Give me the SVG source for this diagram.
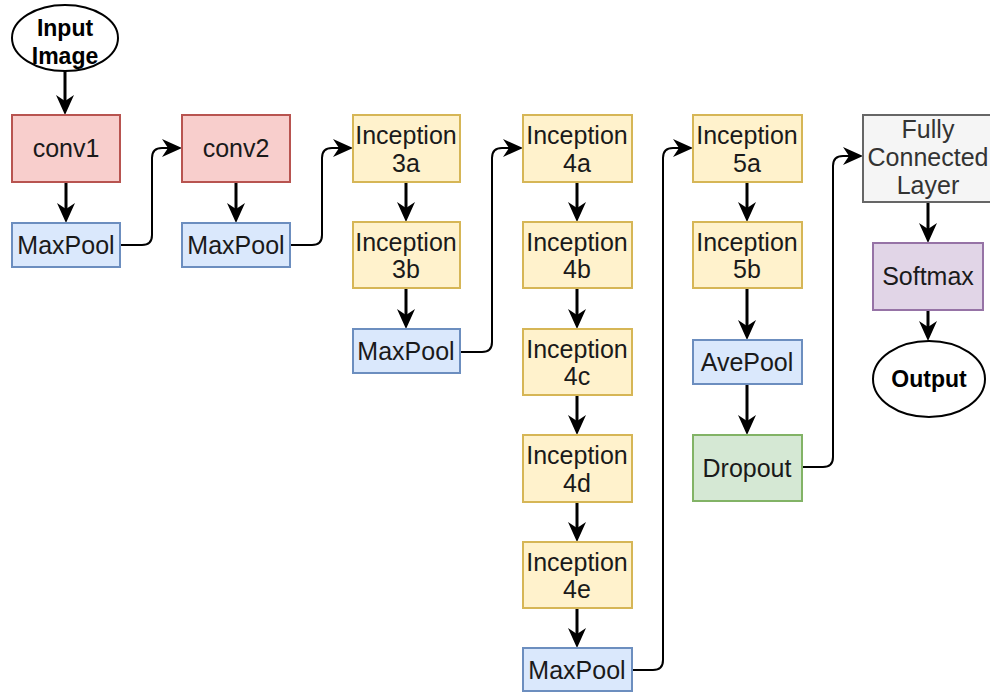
<svg xmlns="http://www.w3.org/2000/svg" width="990" height="693" viewBox="0 0 990 693">
<style>
text{font-family:"Liberation Sans",Arial,sans-serif;font-size:25px;fill:#1a1a1a;text-anchor:middle}
.b{font-weight:bold;font-size:23px;fill:#000}
.n rect,.n ellipse{stroke-width:2}
.red{fill:#f8cecc;stroke:#b85450}
.blue{fill:#dae8fc;stroke:#6c8ebf}
.yel{fill:#fff2cc;stroke:#d6b656}
.grn{fill:#d5e8d4;stroke:#82b366}
.gry{fill:#f5f5f5;stroke:#666666}
.pur{fill:#e1d5e7;stroke:#9673a6}
.ell{fill:#fff;stroke:#000}
#edges path{fill:none;stroke:#000;stroke-width:3;marker-end:url(#ah)}
#edges path.c{stroke-width:2}
</style>
<defs>
<marker id="ah" viewBox="0 0 20 18" refX="6" refY="9" markerWidth="20" markerHeight="18" orient="auto" markerUnits="userSpaceOnUse"><path d="M0,0 L20,9 L0,18 L6,9 z" fill="#000"/></marker>
</defs>
<rect width="990" height="693" fill="#fff"/>
<g id="edges">
<path d="M65,71 V101"/>
<path d="M66,182 V209"/>
<path d="M236,182 V209"/>
<path d="M406,182 V208"/>
<path d="M406,288 V315"/>
<path d="M577,182 V208"/>
<path d="M577,288 V315"/>
<path d="M577,395 V421"/>
<path d="M577,502 V528"/>
<path d="M577,608 V634"/>
<path d="M747,182 V208"/>
<path d="M747,288 V326"/>
<path d="M747,384 V421"/>
<path d="M928,202 V229"/>
<path d="M928,310 V327"/>
<path class="c" d="M120,245 H142 Q152,245 152,235 V158 Q152,148 162,148 H168"/>
<path class="c" d="M290,245 H312 Q322,245 322,235 V158 Q322,148 332,148 H339"/>
<path class="c" d="M460,352 H482 Q492,352 492,342 V158 Q492,148 502,148 H509"/>
<path class="c" d="M632,670 H653 Q663,670 663,660 V158 Q663,148 673,148 H679"/>
<path class="c" d="M802,467 H823 Q833,467 833,457 V166 Q833,156 843,156 H849"/>
</g>
<g id="input" class="n"><ellipse class="ell" cx="65" cy="38" rx="53" ry="33"/><text class="b" x="65" y="36">Input</text><text class="b" x="65" y="64">Image</text></g>
<g id="conv1" class="n"><rect class="red" x="12" y="115" width="108" height="67"/><text x="66" y="157">conv1</text></g>
<g id="maxpool1" class="n"><rect class="blue" x="12" y="223" width="108" height="44"/><text x="66" y="254">MaxPool</text></g>
<g id="conv2" class="n"><rect class="red" x="182" y="115" width="108" height="67"/><text x="236" y="157">conv2</text></g>
<g id="maxpool2" class="n"><rect class="blue" x="182" y="223" width="108" height="44"/><text x="236" y="254">MaxPool</text></g>
<g id="inc3a" class="n"><rect class="yel" x="353" y="115" width="107" height="67"/><text x="406" y="144">Inception</text><text x="406" y="172">3a</text></g>
<g id="inc3b" class="n"><rect class="yel" x="353" y="222" width="107" height="66"/><text x="406" y="251">Inception</text><text x="406" y="278">3b</text></g>
<g id="maxpool3" class="n"><rect class="blue" x="353" y="329" width="107" height="44"/><text x="406" y="360">MaxPool</text></g>
<g id="inc4a" class="n"><rect class="yel" x="523" y="115" width="109" height="67"/><text x="577" y="144">Inception</text><text x="577" y="172">4a</text></g>
<g id="inc4b" class="n"><rect class="yel" x="523" y="222" width="109" height="66"/><text x="577" y="251">Inception</text><text x="577" y="278">4b</text></g>
<g id="inc4c" class="n"><rect class="yel" x="523" y="329" width="109" height="66"/><text x="577" y="358">Inception</text><text x="577" y="385">4c</text></g>
<g id="inc4d" class="n"><rect class="yel" x="523" y="435" width="109" height="67"/><text x="577" y="464">Inception</text><text x="577" y="492">4d</text></g>
<g id="inc4e" class="n"><rect class="yel" x="523" y="542" width="109" height="66"/><text x="577" y="571">Inception</text><text x="577" y="598">4e</text></g>
<g id="maxpool4" class="n"><rect class="blue" x="523" y="648" width="109" height="43"/><text x="577" y="679">MaxPool</text></g>
<g id="inc5a" class="n"><rect class="yel" x="693" y="115" width="109" height="67"/><text x="747" y="144">Inception</text><text x="747" y="172">5a</text></g>
<g id="inc5b" class="n"><rect class="yel" x="693" y="222" width="109" height="66"/><text x="747" y="251">Inception</text><text x="747" y="278">5b</text></g>
<g id="avepool" class="n"><rect class="blue" x="693" y="340" width="109" height="44"/><text x="747" y="371">AvePool</text></g>
<g id="dropout" class="n"><rect class="grn" x="693" y="435" width="109" height="66"/><text x="747" y="477">Dropout</text></g>
<g id="fc" class="n"><rect class="gry" x="863" y="115" width="132" height="87"/><text x="928" y="138" style="fill:#333">Fully</text><text x="928" y="166" style="fill:#333">Connected</text><text x="928" y="194" style="fill:#333">Layer</text></g>
<g id="softmax" class="n"><rect class="pur" x="873" y="243" width="110" height="67"/><text x="928" y="285">Softmax</text></g>
<g id="output" class="n"><ellipse class="ell" cx="929" cy="379" rx="56" ry="38"/><text class="b" x="929" y="387">Output</text></g>
</svg>
